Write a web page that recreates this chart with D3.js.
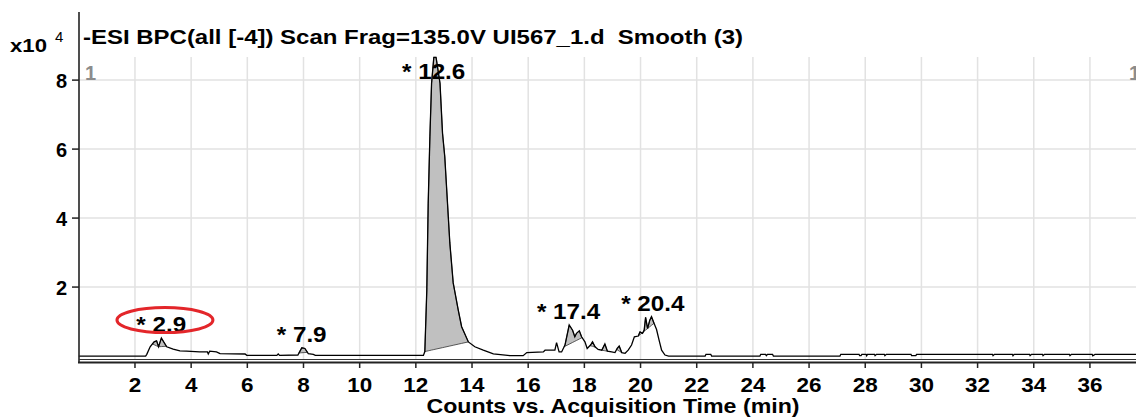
<!DOCTYPE html>
<html><head><meta charset="utf-8">
<script src="https://cdn.jsdelivr.net/npm/d3@7"></script>
<style>body{margin:0;background:#fff} text{font-family:"Liberation Sans",Arial,sans-serif;white-space:pre}</style>
</head><body><svg id="c" width="1136" height="417"></svg>
<script>
// ---- data (counts in units of 10^4) ----
const rt = [0,2.38,2.42,2.54,2.68,2.77,2.84,2.94,3.13,3.36,3.6,3.84,4.3,4.58,4.61,4.66,4.9,5.03,5.92,5.98,
  7.05,7.1,7.15,7.8,7.88,7.94,8.05,8.17,8.35,8.42,
  12.27,12.32,12.39,12.44,12.5,12.56,12.64,12.72,12.86,12.95,13.03,13.21,13.33,13.51,13.63,13.87,14.1,14.4,14.76,15.35,15.82,15.95,
  16.54,16.6,16.95,17.01,17.1,17.19,17.31,17.46,17.58,17.66,17.72,17.82,17.9,18.02,18.1,18.22,18.29,18.38,18.49,18.62,18.73,18.82,
  18.97,19.09,19.17,19.24,19.33,19.45,19.56,19.68,19.78,19.92,19.98,20.07,20.13,20.18,20.25,20.33,20.39,20.48,20.57,20.66,20.75,20.87,
  21.0,22.3,22.33,22.5,22.53,24.25,24.28,24.45,24.48,24.52,24.7,24.73,27.1,27.13,27.78,27.8,27.85,27.88,28.03,28.05,28.08,28.33,28.35,28.4,
  28.68,28.7,28.75,29.63,29.65,29.8,29.83,32.53,32.55,32.6,33.24,33.26,33.3,33.85,33.87,33.92,34.31,34.33,34.38,35.27,35.29,35.34,36.08,36.1,36.18,37.7];
const counts = [0,0,0.05,0.27,0.41,0.44,0.27,0.52,0.27,0.2,0.15,0.14,0.12,0.12,0.06,0.14,0.12,0.07,0.06,0.02,
  0.02,0.06,0.02,0.03,0.15,0.24,0.22,0.07,0.05,0.02,
  0.02,0.13,1.91,4.43,6.36,7.91,8.66,8.66,7.91,6.46,5.78,3.28,2.12,1.33,0.85,0.41,0.27,0.17,0.06,0.01,0.01,0.1,
  0.12,0.17,0.17,0.39,0.12,0.12,0.32,0.9,0.75,0.56,0.66,0.73,0.56,0.41,0.22,0.32,0.41,0.27,0.19,0.17,0.35,0.14,
  0.12,0.1,0.22,0.29,0.1,0.08,0.17,0.32,0.56,0.58,0.7,0.66,0.75,1.12,0.8,1.04,1.14,0.95,0.77,0.46,0.17,0.03,
  0,0,0.05,0.05,0,0,0.05,0.05,0.01,0.05,0.05,0,0,0.05,0.05,0.01,0.01,0.05,0.05,0.01,0.05,0.05,0.01,0.05,
  0.05,0.01,0.05,0.05,0.01,0.01,0.05,0.05,0.01,0.05,0.05,0.01,0.05,0.05,0.01,0.05,0.05,0.01,0.05,0.05,0.01,0.05,0.05,0.01,0.05,0.05];
const xTicks = [2,4,6,8,10,12,14,16,18,20,22,24,26,28,30,32,34,36];
const yTicks = [2,4,6,8];
const peakRT = [2.9,7.9,12.6,17.4,20.4];
const peakLabels = ["* 2.9","* 7.9","* 12.6","* 17.4","* 20.4"];
const integStart = [2.62,2.84,7.84,12.32,17.28,18.2,18.6,19.15,19.92];
const integEnd   = [2.84,3.12,8.14,13.87,17.92,18.4,18.82,19.33,20.48];
const titleText = "-ESI BPC(all [-4]) Scan Frag=135.0V UI567_1.d  Smooth (3)";
const xTitle = "Counts vs. Acquisition Time (min)";
const circledPeak = 2.9;

// ---- drawing ----
const svg = d3.select("#c");
svg.append("rect").attr("width",1136).attr("height",417).attr("fill","#fff");
const x = d3.scaleLinear().domain([0,37.64]).range([78.8,1136]);
const y = d3.scaleLinear().domain([-0.1,8.67]).range([359.5,57]);
const trace = rt.map((t,i)=>({t, v:counts[i]}));
const interp = t => { for(let i=1;i<trace.length;i++){ if(trace[i].t>=t){const a=trace[i-1],b=trace[i];return a.v+(b.v-a.v)*(t-a.t)/(b.t-a.t);} } return 0; };

function stretch(sel,f){ sel.each(function(){ const n=this.getComputedTextLength(); d3.select(this).attr("textLength",n*f).attr("lengthAdjust","spacingAndGlyphs"); }); }

// grid
svg.append("g").selectAll("line").data(xTicks).join("line")
  .attr("x1",d=>x(d)).attr("x2",d=>x(d)).attr("y1",57).attr("y2",359.5)
  .attr("stroke","#e2e2e2").attr("stroke-width",1.5);
svg.append("g").selectAll("line").data(yTicks).join("line")
  .attr("x1",79).attr("x2",1136).attr("y1",d=>y(d)).attr("y2",d=>y(d))
  .attr("stroke","#e2e2e2").attr("stroke-width",1.5);

// integrated areas
const area = d3.area().x(d=>x(d.t)).y0(d=>y(d.b)).y1(d=>y(d.v));
integStart.forEach((s,i)=>{
  const e = integEnd[i], vs = interp(s), ve = interp(e);
  const pts = [{t:s,v:vs}].concat(trace.filter(p=>p.t>s&&p.t<e)).concat([{t:e,v:ve}])
    .map(p=>({t:p.t,v:p.v,b:vs+(ve-vs)*(p.t-s)/(e-s)}));
  svg.append("path").datum(pts).attr("d",area).attr("fill","#c0c0c0")
    .attr("stroke","#333").attr("stroke-width",0.8);
});

// trace
svg.append("path").datum(trace)
  .attr("d",d3.line().x(d=>x(d.t)).y(d=>y(d.v)))
  .attr("fill","none").attr("stroke","#000").attr("stroke-width",1.3);

// axes
svg.append("line").attr("x1",79).attr("x2",79).attr("y1",12).attr("y2",363).attr("stroke","#222").attr("stroke-width",1.6);
svg.append("line").attr("x1",79).attr("x2",1136).attr("y1",359.5).attr("y2",359.5).attr("stroke","#333").attr("stroke-width",1);
svg.append("line").attr("x1",78).attr("x2",1136).attr("y1",362.5).attr("y2",362.5).attr("stroke","#222").attr("stroke-width",2);
svg.append("g").selectAll("line").data(xTicks).join("line")
  .attr("x1",d=>x(d)).attr("x2",d=>x(d)).attr("y1",363).attr("y2",368).attr("stroke","#222").attr("stroke-width",1.5);
svg.append("g").selectAll("line").data(yTicks).join("line")
  .attr("x1",72).attr("x2",79).attr("y1",d=>y(d)).attr("y2",d=>y(d)).attr("stroke","#222").attr("stroke-width",1.5);

const xl = svg.append("g").selectAll("text").data(xTicks).join("text")
  .attr("x",d=>x(d)).attr("y",392).attr("text-anchor","middle")
  .attr("font-size",21).attr("font-weight","bold").attr("fill","#000").text(d=>d);
stretch(xl,1.07);
svg.append("g").selectAll("text").data(yTicks).join("text")
  .attr("x",67).attr("y",d=>y(d)+8).attr("text-anchor","end")
  .attr("font-size",20).attr("font-weight","bold").attr("fill","#000").text(d=>d);

// titles
svg.append("text").attr("x",83).attr("y",44).attr("font-size",20).attr("font-weight","bold")
  .attr("textLength",660).attr("lengthAdjust","spacingAndGlyphs").text(titleText);
svg.append("text").attr("x",10).attr("y",51.5).attr("font-size",19).attr("font-weight","bold")
  .attr("textLength",37).attr("lengthAdjust","spacingAndGlyphs").text("x10");
svg.append("text").attr("x",55).attr("y",41.5).attr("font-size",15).text("4");
svg.append("text").attr("x",613).attr("y",413).attr("text-anchor","middle").attr("font-size",21).attr("font-weight","bold")
  .attr("textLength",373).attr("lengthAdjust","spacingAndGlyphs").text(xTitle);

// range markers
svg.append("text").attr("x",85).attr("y",80).attr("font-size",20).attr("font-weight","bold").attr("fill","#8c8c8c").text("1");
svg.append("text").attr("x",1129).attr("y",80).attr("font-size",20).attr("font-weight","bold").attr("fill","#8c8c8c").text("1");

// peak labels
const apex = t => d3.max(trace.filter(p=>Math.abs(p.t-t)<=0.2), p=>p.v);
const labelY = t => Math.max(y(apex(t))-6, 79);
const pl = svg.append("g").selectAll("text").data(peakRT).join("text")
  .attr("x",d=>x(d)+1).attr("y",d=>labelY(d)).attr("text-anchor","middle")
  .attr("font-size",22).attr("font-weight","bold").attr("fill","#000").text((d,i)=>peakLabels[i]);
stretch(pl,1.1);

// highlight ellipse
svg.append("ellipse").attr("cx",x(circledPeak)+4.7).attr("cy",labelY(circledPeak)-12)
  .attr("rx",48).attr("ry",12.5).attr("fill","none").attr("stroke","#e3262a").attr("stroke-width",3);
</script></body></html>
